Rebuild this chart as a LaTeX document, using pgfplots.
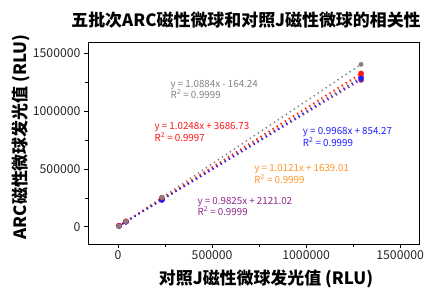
\documentclass[border=0pt]{standalone}
\usepackage{fontspec}
\setmainfont{Noto Sans CJK SC}
\usepackage{pgfplots}
\pgfplotsset{compat=1.18}
\definecolor{cgray}{RGB}{130,130,130}
\definecolor{cred}{RGB}{255,20,20}
\definecolor{cblue}{RGB}{30,30,255}
\definecolor{corange}{RGB}{255,150,40}
\definecolor{cpurple}{RGB}{140,40,140}
\begin{document}
\begin{tikzpicture}
\useasboundingbox (-88bp,-46bp) rectangle (339bp,244bp);
\begin{axis}[at={(0,0)}, anchor=south west, scale only axis,
  width=331bp, height=202bp,
  xmin=-160000, xmax=1600000, ymin=-150000, ymax=1600000,
  xtick={0,500000,1000000,1500000}, ytick={0,500000,1000000,1500000},
  minor tick num=1, tick align=outside, tick pos=left,
  major tick length=4bp, minor tick length=2.5bp,
  scaled ticks=false,
  tick label style={font=\fontsize{12.3}{14}\selectfont, text=black!85},
  xticklabel style={yshift=1bp},
  /pgf/number format/.cd, fixed, 1000 sep={}, assume math mode=true,
  /pgfplots/.cd,
  axis line style={line width=0.7pt},
  every tick/.style={black, line width=0.6pt},
  clip=false]
% trendlines
\addplot[cgray, line width=1.5pt, dash pattern=on 1.4bp off 3.4bp] coordinates {(0,-164) (1292000,1406049)};
\addplot[corange, line width=1.5pt, dash pattern=on 1.4bp off 3.4bp] coordinates {(0,1639) (1292000,1309272)};
\addplot[cpurple, line width=1.5pt, dash pattern=on 1.4bp off 3.4bp] coordinates {(0,2121) (1292000,1271511)};
\addplot[cred, line width=1.5pt, dash pattern=on 1.4bp off 3.4bp] coordinates {(0,3687) (1292000,1327729)};
\addplot[cblue, line width=1.5pt, dash pattern=on 1.4bp off 3.4bp] coordinates {(0,854) (1292000,1288720)};
% points
\addplot[only marks, mark=*, mark size=2.6bp, corange] coordinates {(5000,6700) (42000,44147) (233000,237458) (1292000,1309272)};
\addplot[only marks, mark=*, mark size=2.6bp, cpurple] coordinates {(5000,7034) (42000,43386) (233000,231044) (1292000,1271511)};
\addplot[only marks, mark=*, mark size=2.6bp, cblue] coordinates {(5000,5838) (42000,42720) (233000,233109) (1292000,1288720)};
\addplot[only marks, mark=*, mark size=2.6bp, cred] coordinates {(5000,8811) (42000,46729) (233000,252000) (1292000,1327729)};
\addplot[only marks, mark=*, mark size=2.2bp, cgray] coordinates {(5000,5278) (42000,45549) (233000,253433) (1292000,1406049)};
% annotations
\node[anchor=west, align=left, text=cgray, font=\fontsize{9.8}{11.5}\selectfont] at (axis cs:260600,1190000) {y = 1.0884x - 164.24\\R\textsuperscript{2} = 0.9999};
\node[anchor=west, align=left, text=cred, font=\fontsize{9.8}{11.5}\selectfont] at (axis cs:175500,822000) {y = 1.0248x + 3686.73\\R\textsuperscript{2} = 0.9997};
\node[anchor=west, align=left, text=cblue, font=\fontsize{9.8}{11.5}\selectfont] at (axis cs:964000,777000) {y = 0.9968x + 854.27\\R\textsuperscript{2} = 0.9999};
\node[anchor=west, align=left, text=corange, font=\fontsize{9.8}{11.5}\selectfont] at (axis cs:706000,456700) {y = 1.0121x + 1639.01\\R\textsuperscript{2} = 0.9999};
\node[anchor=west, align=left, text=cpurple, font=\fontsize{9.8}{11.5}\selectfont] at (axis cs:404000,176800) {y = 0.9825x + 2121.02\\R\textsuperscript{2} = 0.9999};
\end{axis}
\node[font=\bfseries\fontsize{17}{20}\selectfont] at (158bp,224bp) {五批次ARC磁性微球和对照J磁性微球的相关性};
\node[font=\bfseries\fontsize{17}{20}\selectfont] at (178bp,-35bp) {对照J磁性微球发光值 (RLU)};
\node[font=\bfseries\fontsize{17}{20}\selectfont, rotate=90] at (-67bp,107bp) {ARC磁性微球发光值 (RLU)};
\end{tikzpicture}
\end{document}
